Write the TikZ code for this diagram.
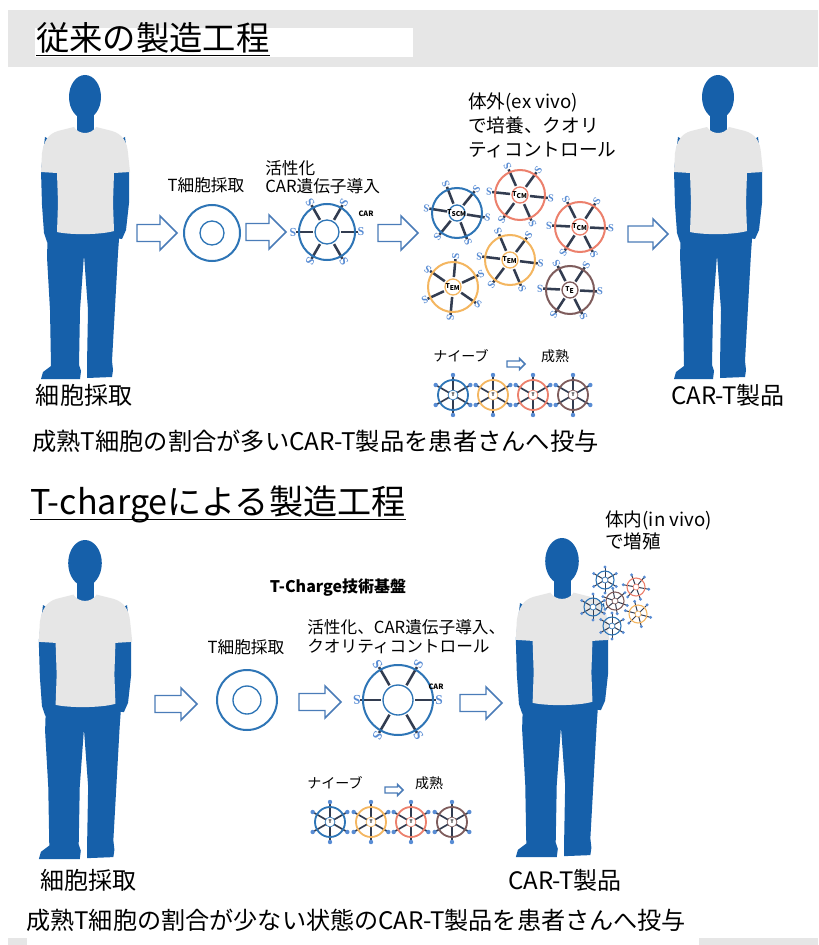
\documentclass[tikz,border=0pt]{standalone}
\usepackage{fontspec}
\setmainfont{Noto Sans CJK JP}
\newfontfamily\abfont{Liberation Serif}
\definecolor{personblue}{RGB}{22,96,170}
\definecolor{shirtgray}{RGB}{230,230,230}
\definecolor{headergray}{RGB}{230,230,230}
\definecolor{cellblue}{RGB}{46,117,182}
\definecolor{cellorange}{RGB}{244,182,96}
\definecolor{cellred}{RGB}{236,128,108}
\definecolor{cellbrown}{RGB}{126,92,92}
\definecolor{abblue}{RGB}{88,140,212}
\definecolor{spokecol}{RGB}{50,60,80}
\definecolor{arrowblue}{RGB}{74,124,184}
\newcommand\fsz[1]{\fontsize{#1}{#1}\selectfont}
\tikzset{
  txt/.style={inner sep=0pt, text=black},
  spoke/.style={draw=spokecol, line width=1.9pt},
  abglyph/.style={inner sep=0pt, text=abblue},
  barrow/.style={draw=arrowblue, fill=white, line width=1.1pt, line join=miter},
}
% hollow block arrow: centre x, centre y, length, head width, shaft width
\newcommand\blockarrow[5]{%
  \draw[barrow] (#1-#3/2,#2-#5/2) -- (#1+#3/2-#4/2,#2-#5/2) -- (#1+#3/2-#4/2,#2-#4/2)
    -- (#1+#3/2,#2) -- (#1+#3/2-#4/2,#2+#4/2) -- (#1+#3/2-#4/2,#2+#5/2)
    -- (#1-#3/2,#2+#5/2) -- cycle;}
% standing figure, origin at the top of the head
\newcommand\person[3]{%
  \begin{scope}[shift={(#1,#2)},scale=#3]
    \fill[personblue] (0,22) ellipse (16 and 22);
    \fill[personblue] (-8,36) rectangle (9,60);
    \fill[personblue] (-40,62) -- (-44,96) -- (-43,130) -- (-41,158) -- (-38,167) -- (-32,170)
      -- (-27,164) -- (-26,130) -- (-26,70) -- cycle;
    \fill[personblue] (40,62) -- (44,96) -- (44,128) -- (41,155) -- (37,164) -- (31,163)
      -- (27,152) -- (26,120) -- (26,70) -- cycle;
    \fill[personblue] (-37,150) -- (35,150) -- (33,178) -- (30,232) -- (27,286) -- (28,295)
      -- (27,302) -- (2,303) -- (2,290) -- (3,235) -- (-1,180) -- (-5,235) -- (-6,290)
      -- (-4,296) -- (-5,304) -- (-44,304) -- (-42,297) -- (-34,291) -- (-35,235)
      -- (-38,182) -- cycle;
    \fill[shirtgray] (-11,52) .. controls (-6,60) and (6,60) .. (11,52) -- (27,56)
      .. controls (37,59) and (42,66) .. (43,78) -- (45,97) -- (29,98) -- (28,128)
      -- (29,156) .. controls (15,160) and (-15,160) .. (-28,157) -- (-27,128)
      -- (-28,98) -- (-44,97) -- (-43,78) .. controls (-41,66) and (-37,59) .. (-27,56)
      -- cycle;
  \end{scope}}
% CAR-T cell with antibody receptors: x, y, R, inner r, colour, rotation, label, glyph size
\newcommand\bigwheel[8]{%
  \begin{scope}[shift={(#1,#2)}]
    \foreach \k in {0,...,5}{
      \pgfmathsetmacro\ang{#6+60*\k}
      \pgfmathsetmacro\ra{#4+2}
      \pgfmathsetmacro\rb{#3+3}
      \pgfmathsetmacro\rc{#3+6}
      \draw[spoke] (\ang:\ra) -- (\ang:\rb);
      \node[abglyph, font=\abfont\bfseries\fsz{#8}, rotate=-\ang, name=ab#1x#2k\k] at (\ang:\rc) {S};
    }
    \draw[#5, line width=1.5pt] (0,0) circle (#3);
    \draw[#5, line width=1pt, fill=white] (0,0) circle (#4);
    \node[txt, font=\bfseries\fsz{5}, name=lb#1x#2] at (0,0) {#7};
  \end{scope}}
% small cell: x, y, R, colour, rotation, receptor reach, dot radius
\newcommand\smallwheel[7]{%
  \begin{scope}[shift={(#1,#2)}]
    \foreach \k in {0,...,5}{
      \pgfmathsetmacro\ang{#5+60*\k}
      \pgfmathsetmacro\ra{#3*0.3}
      \pgfmathsetmacro\rb{#3+#6}
      \draw[draw=spokecol, line width=#3/12 pt] (\ang:\ra) -- (\ang:\rb);
      \fill[abblue] (\ang:\rb) circle (#7);
    }
    \draw[#4, line width=#3/11 pt] (0,0) circle (#3);
    \draw[#4, line width=0.5pt, fill=white] (0,0) circle (#3*0.33);
  \end{scope}}
\newcommand\tinyT[3]{\node[txt, font=\bfseries\fsz{3.5}, name=tt#3] at (#1,#2) {T};}

\begin{document}
\begin{tikzpicture}[x=0.75pt,y=-0.75pt]
\useasboundingbox (0,0) rectangle (818,945);
\fill[white] (0,0) rectangle (818,945);

% ---------- conventional process ----------
\fill[headergray] (8,10) rectangle (818,67);
\fill[white] (35,28) rectangle (413,57);
\node[txt, anchor=base west, font=\fsz{25}] (title1) at (36,51) {従来の製造工程};
\draw[line width=0.8pt] ([yshift=-3.3pt]title1.base west) -- ([yshift=-3.3pt]title1.base east);

\person{85}{75}{1}
\person{718}{75}{1}
\node[txt, font=\fsz{18}] (donor1) at (84,395) {細胞採取};
\node[txt, font=\fsz{18}] (prod1) at (728,395) {CAR-T製品};

\blockarrow{157}{233}{40}{34}{17}
\blockarrow{266}{232}{40}{34}{17}
\blockarrow{398}{233}{40}{34}{17}
\blockarrow{648}{234}{40}{30}{16}

\node[txt, font=\fsz{12.5}] (coll1) at (206,185) {T細胞採取};
\draw[cellblue, line width=1.5pt] (212,233) circle (28);
\draw[cellblue, line width=1pt] (212,233) circle (12);

\node[txt, anchor=north west, align=left, font=\fontsize{12.5}{14}\selectfont] (act1) at (265,160) {活性化\\CAR遺伝子導入};
\bigwheel{327}{232}{28}{12}{cellblue}{0}{}{9}
\node[txt, font=\bfseries\fsz{5.5}] (car1) at (366,214) {CAR};

\node[txt, anchor=north west, align=left, font=\fontsize{14}{18}\selectfont] (exvivo) at (468,93) {体外(ex vivo)\\で培養、クオリ\\ティコントロール};
\bigwheel{457}{213}{25}{8}{cellblue}{9}{T\textsubscript{SCM}}{8}
\bigwheel{520}{195}{25}{8}{cellred}{6}{T\textsubscript{CM}}{8}
\bigwheel{580}{227}{25}{8}{cellred}{3}{T\textsubscript{CM}}{8}
\bigwheel{510}{260}{25}{8}{cellorange}{7}{T\textsubscript{EM}}{8}
\bigwheel{453}{287}{25}{8}{cellorange}{35}{T\textsubscript{EM}}{8}
\bigwheel{570}{290}{24}{8}{cellbrown}{3}{T\textsubscript{E}}{8}

\node[txt, font=\fsz{10.5}] (naive1) at (461,356) {ナイーブ};
\node[txt, font=\fsz{10.5}] (mature1) at (555,356) {成熟};
\blockarrow{516}{364}{18}{11}{6}
\smallwheel{453}{395}{15}{cellblue}{30}{5}{2.2}
\smallwheel{493}{395}{15}{cellorange}{30}{5}{2.2}
\smallwheel{533}{395}{15}{cellred}{30}{5}{2.2}
\smallwheel{573}{395}{15}{cellbrown}{30}{5}{2.2}
\tinyT{453}{395}{a1}\tinyT{493}{395}{a2}\tinyT{533}{395}{a3}\tinyT{573}{395}{a4}

\node[txt, anchor=west, font=\fsz{18.2}] (sum1) at (32,441) {成熟T細胞の割合が多いCAR-T製品を患者さんへ投与};

% ---------- T-charge process ----------
\node[txt, anchor=base west, font=\fsz{25.6}] (title2) at (30,514) {T-chargeによる製造工程};
\draw[line width=0.8pt] ([yshift=-4pt]title2.base west) -- ([yshift=-4pt]title2.base east);

\person{85}{540}{1.05}
\person{562}{538}{1.05}
\node[txt, font=\fsz{18}] (donor2) at (88,880) {細胞採取};
\node[txt, font=\fsz{18}] (prod2) at (565,880) {CAR-T製品};

\node[txt, font=\bfseries\fsz{12}] (platform) at (338,588) {T-Charge技術基盤};

\blockarrow{176}{704}{42}{32}{17}
\blockarrow{320}{702}{42}{32}{17}
\blockarrow{481}{703}{42}{32}{17}

\node[txt, font=\fsz{12.5}] (coll2) at (246,647) {T細胞採取};
\draw[cellblue, line width=1.5pt] (247,700) circle (30);
\draw[cellblue, line width=1pt] (247,700) circle (14);

\node[txt, anchor=north west, align=left, font=\fontsize{12.5}{14.5}\selectfont] (act2) at (307,619) {活性化、CAR遺伝子導入、\\クオリティコントロール};
\bigwheel{398}{700}{35}{15}{cellblue}{0}{}{10}
\node[txt, font=\bfseries\fsz{5.5}] (car2) at (436,687) {CAR};

\node[txt, font=\fsz{10.5}] (naive2) at (335,783) {ナイーブ};
\node[txt, font=\fsz{10.5}] (mature2) at (429,783) {成熟};
\blockarrow{394}{790}{18}{11}{6}
\smallwheel{330}{822}{15}{cellblue}{30}{5}{2.2}
\smallwheel{371}{822}{15}{cellorange}{30}{5}{2.2}
\smallwheel{411}{822}{15}{cellred}{30}{5}{2.2}
\smallwheel{452}{822}{15}{cellbrown}{30}{5}{2.2}
\tinyT{330}{822}{b1}\tinyT{371}{822}{b2}\tinyT{411}{822}{b3}\tinyT{452}{822}{b4}

\node[txt, anchor=north west, align=left, font=\fontsize{14}{16.5}\selectfont] (invivo) at (605,511) {体内(in vivo)\\で増殖};
\smallwheel{605}{580}{9}{cellblue}{30}{4}{1.6}
\smallwheel{636}{587}{9}{cellred}{10}{4}{1.6}
\smallwheel{615}{601}{9}{cellbrown}{20}{4}{1.6}
\smallwheel{593}{607}{9}{cellblue}{30}{4}{1.6}
\smallwheel{638}{614}{9}{cellorange}{15}{4}{1.6}
\smallwheel{612}{626}{9}{cellblue}{30}{4}{1.6}

\node[txt, anchor=west, font=\fsz{18.1}] (sum2) at (26,920) {成熟T細胞の割合が少ない状態のCAR-T製品を患者さんへ投与};

\fill[headergray] (8,938) rectangle (818,945);
\fill[white] (27,938) rectangle (699,945);
\end{tikzpicture}
\end{document}
